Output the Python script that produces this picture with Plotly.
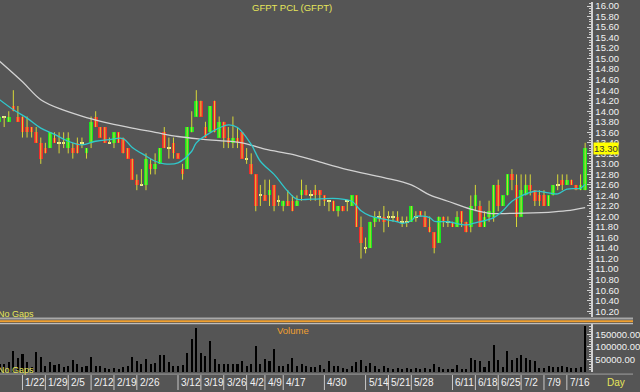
import pandas as pd
import plotly.graph_objects as go

# ---------------- data ----------------
holidays = ["2018-03-01", "2018-04-06", "2018-04-13", "2018-04-16", "2018-05-01", "2018-05-29"]
dates = [d for d in pd.bdate_range("2018-01-15", "2018-07-20") if d.strftime("%Y-%m-%d") not in holidays]

opens = [13.8, 13.9, 13.8, 14.1, 13.9, 13.9, 13.7, 13.7, 13.6, 13.4,
         13.3, 13.3, 13.5, 13.4, 13.4, 13.3, 13.3, 13.4, 13.4, 13.2,
         13.4, 13.9, 13.7, 13.7, 13.4, 13.4, 13.6, 13.5, 13.3, 13.1,
         12.7, 12.6, 12.6, 13.0, 12.9, 13.0, 13.6, 13.3, 13.4, 13.2,
         12.9, 12.9, 13.6, 13.9, 14.2, 13.7, 13.6, 14.2, 13.5, 13.8,
         13.5, 13.4, 13.5, 13.6, 13.1, 13.0, 12.8, 12.4, 12.4, 12.4,
         12.6, 12.3, 12.2, 12.3, 12.3, 12.2, 12.4, 12.5, 12.4, 12.5,
         12.5, 12.4, 12.3, 12.3, 12.1, 12.2, 12.3, 12.2, 12.4, 11.8,
         11.4, 11.4, 11.9, 12.0, 12.0, 12.0, 12.0, 12.0, 11.9, 11.9,
         11.9, 12.0, 12.1, 12.0, 11.8, 11.7, 11.5, 12.0, 11.9, 11.9,
         11.8, 12.1, 11.9, 11.8, 12.2, 12.2, 11.8, 12.0, 12.0, 12.6,
         12.2, 12.4, 12.8, 12.6, 12.0, 12.4, 12.6, 12.5, 12.4, 12.4,
         12.2, 12.4, 12.6, 12.7, 12.6, 12.7, 12.6, 12.5, 12.5]
highs = [13.9, 13.9, 14.0, 14.4, 14.1, 13.9, 13.9, 13.7, 13.7, 13.5,
         13.4, 13.6, 13.6, 13.6, 13.6, 13.6, 13.4, 13.5, 13.5, 13.3,
         13.9, 14.0, 13.7, 13.7, 13.5, 13.6, 13.6, 13.5, 13.3, 13.1,
         12.8, 12.9, 13.2, 13.1, 13.2, 13.3, 13.7, 13.5, 13.5, 13.2,
         13.0, 13.7, 14.0, 14.4, 14.2, 13.8, 14.1, 14.2, 13.9, 13.8,
         13.7, 13.9, 13.7, 13.6, 13.3, 13.2, 12.8, 12.6, 12.7, 12.7,
         12.6, 12.4, 12.3, 12.5, 12.4, 12.4, 12.7, 12.6, 12.5, 12.6,
         12.5, 12.4, 12.3, 12.3, 12.2, 12.2, 12.3, 12.4, 12.4, 12.0,
         11.6, 11.9, 12.1, 12.1, 12.2, 12.1, 12.1, 12.1, 12.0, 12.0,
         12.2, 12.1, 12.1, 12.1, 12.0, 11.7, 12.0, 12.0, 12.0, 11.9,
         12.1, 12.1, 11.9, 12.4, 12.6, 12.3, 12.1, 12.3, 12.6, 12.7,
         12.4, 12.8, 12.9, 12.8, 12.8, 12.8, 12.8, 12.5, 12.5, 12.5,
         12.4, 12.6, 12.8, 12.8, 12.8, 12.7, 12.6, 12.8, 13.4]
lows = [13.8, 13.7, 13.8, 14.0, 13.8, 13.5, 13.5, 13.5, 13.4, 13.0,
        13.2, 13.3, 13.4, 13.2, 13.3, 13.2, 13.1, 13.2, 13.3, 13.1,
        13.3, 13.7, 13.5, 13.4, 13.4, 13.3, 13.4, 13.2, 13.1, 12.7,
        12.5, 12.6, 12.5, 12.8, 12.8, 13.0, 13.3, 13.1, 13.1, 13.1,
        12.7, 12.9, 13.6, 13.9, 13.9, 13.5, 13.6, 13.6, 13.5, 13.3,
        13.3, 13.3, 13.3, 13.1, 13.0, 12.8, 12.1, 12.2, 12.3, 12.2,
        12.1, 12.2, 12.1, 12.2, 12.1, 12.2, 12.3, 12.4, 12.3, 12.3,
        12.2, 12.2, 12.1, 12.1, 12.0, 12.1, 12.1, 12.2, 11.8, 11.2,
        11.3, 11.4, 11.8, 11.9, 11.7, 11.8, 11.9, 11.9, 11.8, 11.8,
        11.9, 11.9, 12.0, 11.8, 11.7, 11.3, 11.5, 11.8, 11.8, 11.8,
        11.8, 11.8, 11.7, 11.7, 12.1, 11.8, 11.8, 11.9, 11.9, 12.1,
        12.2, 12.4, 12.5, 11.8, 12.0, 12.4, 12.4, 12.2, 12.2, 12.2,
        12.2, 12.4, 12.5, 12.5, 12.6, 12.6, 12.5, 12.5, 12.5]
closes = [13.9, 13.9, 13.9, 14.0, 13.8, 13.6, 13.6, 13.6, 13.4, 13.1,
          13.2, 13.6, 13.4, 13.4, 13.4, 13.5, 13.2, 13.2, 13.4, 13.3,
          13.8, 13.7, 13.5, 13.4, 13.4, 13.6, 13.4, 13.2, 13.1, 12.7,
          12.6, 12.6, 13.1, 12.9, 13.0, 13.3, 13.3, 13.3, 13.2, 13.1,
          12.8, 13.7, 13.7, 14.2, 13.9, 13.5, 14.1, 13.6, 13.8, 13.5,
          13.4, 13.5, 13.4, 13.1, 13.1, 12.8, 12.2, 12.4, 12.3, 12.5,
          12.2, 12.3, 12.3, 12.2, 12.1, 12.3, 12.5, 12.4, 12.4, 12.4,
          12.4, 12.3, 12.3, 12.1, 12.2, 12.1, 12.3, 12.4, 11.8, 11.5,
          11.4, 11.9, 12.0, 12.0, 11.9, 12.0, 12.0, 11.9, 11.9, 11.9,
          12.2, 12.0, 12.0, 11.8, 11.7, 11.4, 12.0, 11.9, 11.9, 11.8,
          12.0, 11.9, 11.7, 12.2, 12.4, 11.8, 12.0, 12.1, 12.6, 12.2,
          12.4, 12.8, 12.7, 12.0, 12.5, 12.6, 12.5, 12.3, 12.3, 12.2,
          12.4, 12.6, 12.6, 12.6, 12.7, 12.6, 12.5, 12.6, 13.3]
volumes = [30000, 30000, 37000, 83000, 54000, 70000, 37000, 18000, 77000, 60000,
           24000, 37000, 28000, 30000, 18000, 24000, 47000, 32000, 18000, 21000,
           60000, 24000, 21000, 14000, 10000, 14000, 10000, 18000, 21000, 60000,
           41000, 32000, 51000, 32000, 34000, 67000, 67000, 37000, 24000, 24000,
           28000, 73000, 129000, 172000, 73000, 63000, 122000, 51000, 30000, 30000,
           30000, 30000, 30000, 43000, 24000, 30000, 102000, 30000, 50000, 41000,
           89000, 21000, 21000, 30000, 54000, 24000, 32000, 24000, 18000, 18000,
           28000, 12000, 43000, 24000, 21000, 14000, 12000, 24000, 38000, 45000,
           24000, 34000, 21000, 12000, 21000, 13000, 12000, 13000, 12000, 13000,
           12000, 14000, 12000, 14000, 12000, 30000, 18000, 12000, 9000, 12000,
           28000, 12000, 9000, 54000, 47000, 41000, 18000, 43000, 106000, 47000,
           18000, 83000, 45000, 54000, 67000, 54000, 45000, 41000, 14000, 14000,
           21000, 18000, 18000, 24000, 18000, 14000, 14000, 18000, 181000]

ma_short_idx = [0, 3, 6, 9, 12, 15, 18, 21, 24, 27, 29, 32, 34, 36, 39, 42, 43, 46, 50, 52,
                55, 57, 60, 63, 65, 68, 74, 77, 79, 81, 84, 87, 88, 90, 91, 94, 95, 98, 102,
                104, 108, 110, 112, 114, 117, 120, 122, 124, 127, 128]
ma_short_val = [14.22, 14.03, 13.87, 13.68, 13.56, 13.43, 13.36, 13.43, 13.46, 13.48, 13.31,
                13.15, 13.05, 13.00, 13.02, 13.24, 13.40, 13.59, 13.74, 13.69, 13.37, 13.05,
                12.80, 12.48, 12.33, 12.33, 12.34, 12.29, 12.11, 12.01, 11.95, 11.90, 11.87,
                11.92, 12.00, 11.98, 11.91, 11.90, 11.84, 11.88, 11.98, 12.11, 12.29, 12.39,
                12.48, 12.45, 12.43, 12.52, 12.54, 12.61]
ma_long_idx = [0, 5, 9, 14, 19, 24, 29, 34, 39, 44, 48, 53, 58, 64, 69, 76, 84, 90, 94, 98,
               103, 107, 112, 120, 124, 128]
ma_long_val = [14.95, 14.56, 14.22, 14.02, 13.88, 13.77, 13.68, 13.60, 13.52, 13.47, 13.44,
               13.40, 13.28, 13.18, 13.06, 12.89, 12.74, 12.60, 12.41, 12.29, 12.14, 12.06,
               12.06, 12.08, 12.11, 12.17]

week_labels = ["1/22", "1/29", "2/5", "2/12", "2/19", "2/26", "3/12", "3/19", "3/26", "4/2",
               "4/9", "4/17", "4/30", "5/14", "5/21", "5/28", "6/11", "6/18", "6/25", "7/2",
               "7/9", "7/16"]

price_ticks = [round(10.2 + 0.2 * k, 2) for k in range(30)]
volume_ticks = [50000, 100000, 150000]

# ---------------- figure ----------------
W, H = 640, 392
def py(px):  # pixel row -> paper y
    return 1 - px / H

xs = list(range(len(dates)))
GREEN, RED, WICK = "#16e620", "#f02a2a", "#d8d838"
FONT = "Liberation Sans"

wx, wy = [], []
for i in xs:
    wx += [i, i, None]
    wy += [lows[i], highs[i], None]

up_x = [i for i in xs if closes[i] > opens[i]]
dn_x = [i for i in xs if closes[i] < opens[i]]
dj_x = [i for i in xs if closes[i] == opens[i]]

fig = go.Figure()
fig.add_trace(go.Scatter(x=wx, y=wy, mode="lines", line=dict(color=WICK, width=1),
                         hoverinfo="skip", showlegend=False))
fig.add_trace(go.Bar(x=up_x, y=[closes[i] - opens[i] for i in up_x], base=[opens[i] for i in up_x],
                     width=0.8, marker=dict(color=GREEN, line=dict(width=0)), showlegend=False))
fig.add_trace(go.Bar(x=dn_x, y=[opens[i] - closes[i] for i in dn_x], base=[closes[i] for i in dn_x],
                     width=0.8, marker=dict(color=RED, line=dict(width=0)), showlegend=False))
fig.add_trace(go.Bar(x=dj_x, y=[0.02 for i in dj_x], base=[opens[i] - 0.01 for i in dj_x],
                     width=0.8, marker=dict(color="#ecec9a", line=dict(width=0)), showlegend=False))
fig.add_trace(go.Scatter(x=ma_long_idx, y=ma_long_val, mode="lines",
                         line=dict(color="#d2d2d2", width=1.3, shape="spline"), showlegend=False))
fig.add_trace(go.Scatter(x=ma_short_idx, y=ma_short_val, mode="lines",
                         line=dict(color="#30c8cc", width=1.3, shape="spline"), showlegend=False))
fig.add_trace(go.Bar(x=xs, y=volumes, xaxis="x2", yaxis="y2", width=0.45,
                     marker=dict(color="#000000", line=dict(width=0)), showlegend=False))

xdom = [0, 598 / W]
xr = [0.086, 129.38]
axis_col = "#d0d0d0"
tickfont = dict(family=FONT, size=9.5, color="#f2f2f2")

fig.update_layout(
    width=W, height=H, margin=dict(l=0, r=0, t=0, b=0),
    paper_bgcolor="#555555", plot_bgcolor="#555555",
    barmode="overlay", bargap=0, showlegend=False,
    xaxis=dict(domain=xdom, range=xr, showgrid=False, zeroline=False, showticklabels=False,
               ticks="", anchor="y"),
    xaxis2=dict(domain=xdom, range=xr, matches="x", showgrid=False, zeroline=False,
                showticklabels=False, ticks="", anchor="y2"),
    yaxis=dict(domain=[py(317), 1], range=[10.083, 16.076], side="right", anchor="x",
               tickmode="array", tickvals=price_ticks, ticktext=[f"{v:.2f}" for v in price_ticks],
               ticks="inside", ticklen=4, tickcolor=axis_col, showline=True, linecolor=axis_col,
               linewidth=2, showgrid=False, zeroline=False, tickfont=tickfont,
               ticklabeloverflow="allow",
               minor=dict(tickmode="linear", tick0=10.0, dtick=0.05, ticks="inside", ticklen=2,
                          tickcolor=axis_col)),
    yaxis2=dict(domain=[py(372), py(324)], range=[0, 189000], side="right", anchor="x2",
                tickmode="array", tickvals=volume_ticks, ticktext=[f"{v:.2f}" for v in volume_ticks],
                ticks="inside", ticklen=4, tickcolor=axis_col, showline=True, linecolor=axis_col,
                linewidth=2, showgrid=False, zeroline=False, tickfont=tickfont,
                ticklabeloverflow="allow",
                minor=dict(tickmode="linear", tick0=0, dtick=10000, ticks="inside", ticklen=2,
                           tickcolor=axis_col)),
)

shapes = [
    dict(type="line", xref="paper", yref="paper", x0=0, x1=1, y0=py(318), y1=py(318),
         line=dict(color="#a8a8a8", width=2)),
    dict(type="line", xref="paper", yref="paper", x0=0, x1=1, y0=py(321), y1=py(321),
         line=dict(color="#f0a030", width=2)),
    dict(type="line", xref="paper", yref="paper", x0=0, x1=1, y0=py(323.3), y1=py(323.3),
         line=dict(color="#bdbdbd", width=1.2)),
    dict(type="line", xref="paper", yref="paper", x0=0, x1=1, y0=py(374), y1=py(374),
         line=dict(color="#a0a0a0", width=1)),
]

def label(text, x, y, color, size, xanchor="center", xref="paper", xshift=0):
    return dict(text=text, x=x, y=y, xref=xref, yref="paper", xanchor=xanchor,
                yanchor="middle", xshift=xshift, showarrow=False,
                font=dict(family=FONT, size=size, color=color))

annotations = [
    label("GFPT PCL (GFPT)", 295 / W, py(5.5), "#e6e65a", 9.5),
    label("Volume", 296 / W, py(330.5), "#f0a030", 9.5),
    label("No Gaps", -4 / W, py(313.5), "#e6e65a", 9, xanchor="left"),
    label("No Gaps", -4 / W, py(369.5), "#e6e65a", 9, xanchor="left"),
    label("Day", 623 / W, py(382), "#e6e65a", 10),
    dict(text=f"{closes[-1]:.2f}", x=598 / W, y=closes[-1], xref="paper", yref="y",
         xanchor="left", yanchor="middle", xshift=2, showarrow=False, bgcolor="#ffff00",
         borderpad=0, font=dict(family=FONT, size=9.5, color="#333333")),
]
for lab in week_labels:
    m, d = lab.split("/")
    idx = next(i for i, dt in enumerate(dates) if dt.month == int(m) and dt.day == int(d))
    shapes.append(dict(type="line", xref="x", yref="paper", x0=idx, x1=idx,
                       y0=py(390), y1=py(375), line=dict(color="#c8c8c8", width=1)))
    annotations.append(label(lab, idx, py(382.5), "#f2f2f2", 10, xanchor="left",
                             xref="x", xshift=1))

fig.update_layout(shapes=shapes, annotations=annotations)
fig.write_html("out.html", config={"displayModeBar": False},
               post_script="document.body.style.margin='0';document.body.style.overflow='hidden';")
